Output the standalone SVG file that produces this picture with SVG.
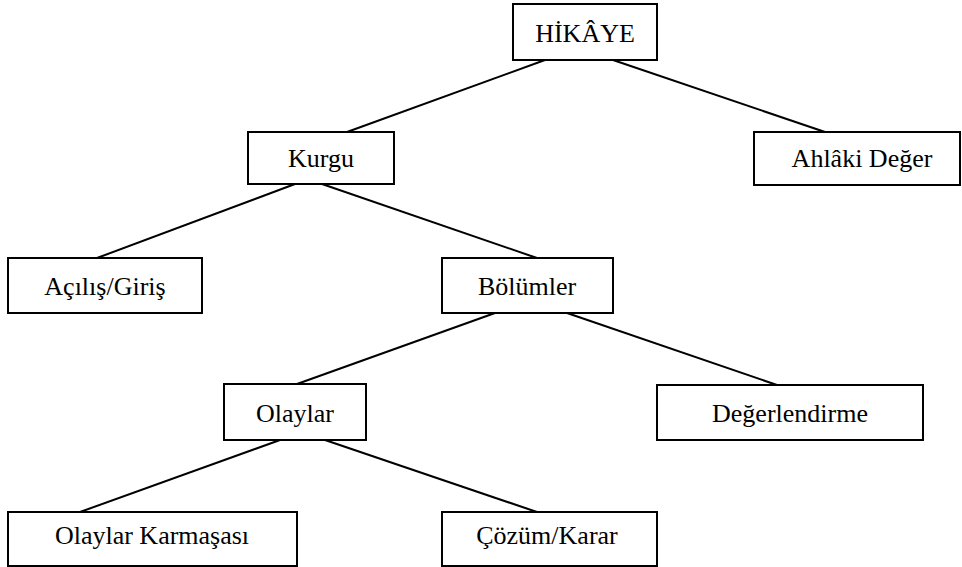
<svg xmlns="http://www.w3.org/2000/svg" width="962" height="567" viewBox="0 0 962 567">
<style>
.box{fill:#fff;stroke:#000;stroke-width:2}
.lbl{font-family:"Liberation Serif","Times New Roman",serif;font-size:26px;fill:#000;text-anchor:middle}
.con line{stroke:#000;stroke-width:2}
</style>
<rect width="962" height="567" fill="#fff"/>
<g class="con" id="connectors">
<line x1="545" y1="60" x2="347" y2="132"/>
<line x1="613" y1="60" x2="825" y2="132"/>
<line x1="295" y1="184" x2="97" y2="258"/>
<line x1="322" y1="184" x2="537" y2="258"/>
<line x1="495" y1="313" x2="297" y2="384"/>
<line x1="567" y1="313" x2="777" y2="385"/>
<line x1="280" y1="440" x2="80" y2="512"/>
<line x1="325" y1="440" x2="537" y2="512"/>
</g>
<g id="hikaye"><rect class="box" x="513" y="4" width="144" height="56"/><text class="lbl" x="585" y="42">HİKÂYE</text></g>
<g id="kurgu"><rect class="box" x="248" y="132" width="146" height="52"/><text class="lbl" x="321" y="167">Kurgu</text></g>
<g id="ahlaki"><rect class="box" x="754" y="132" width="206" height="53"/><text class="lbl" x="862" y="167">Ahlâki Değer</text></g>
<g id="acilis"><rect class="box" x="8" y="258" width="194" height="55"/><text class="lbl" x="105" y="295">Açılış/Giriş</text></g>
<g id="bolumler"><rect class="box" x="442" y="258" width="171" height="55"/><text class="lbl" x="527" y="295">Bölümler</text></g>
<g id="olaylar"><rect class="box" x="224" y="384" width="142" height="56"/><text class="lbl" x="295" y="422">Olaylar</text></g>
<g id="degerlendirme"><rect class="box" x="657" y="385" width="266" height="55"/><text class="lbl" x="790" y="422">Değerlendirme</text></g>
<g id="karmasasi"><rect class="box" x="8" y="512" width="289" height="54"/><text class="lbl" x="152" y="544">Olaylar Karmaşası</text></g>
<g id="cozum"><rect class="box" x="442" y="512" width="215" height="54"/><text class="lbl" x="547" y="544">Çözüm/Karar</text></g>
</svg>
